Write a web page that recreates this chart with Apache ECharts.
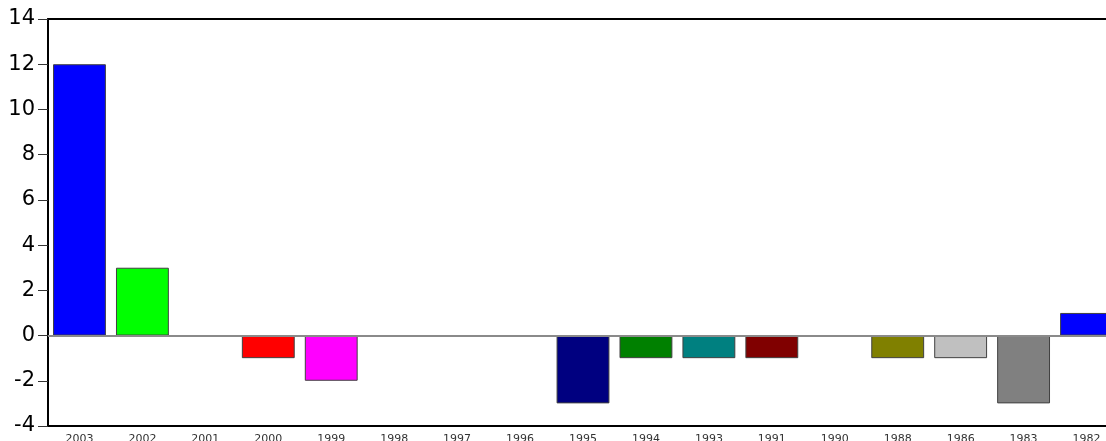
<!DOCTYPE html>
<html>
<head>
<meta charset="utf-8">
<script src="https://cdn.jsdelivr.net/npm/echarts@6/dist/echarts.min.js"></script>
<style>html,body{margin:0;padding:0;background:#fff}#c{width:1106px;height:441px}</style>
</head>
<body>
<div id="c"></div>
<script>
const categories = ['2003','2002','2001','2000','1999','1998','1997','1996','1995','1994','1993','1991','1990','1988','1986','1983','1982'];
const values = [12, 3, 0, -1, -2, 0, 0, 0, -3, -1, -1, -1, 0, -1, -1, -3, 1];
const barColors = ['#0000FF','#00FF00','#FFFF00','#FF0000','#FF00FF','#00FFFF','#0000FF','#00FF00','#000080','#008000','#008080','#800000','#800080','#808000','#C0C0C0','#808080','#0000FF'];
const yTicks = { min: -4, max: 14, interval: 2 };

const chart = echarts.init(document.getElementById('c'), null, { renderer: 'canvas' });
const font = 'DejaVu Sans, Verdana, sans-serif';
chart.setOption({
  animation: false,
  grid: { left: 48, right: -12, top: 19, bottom: 15, outerBoundsMode: 'none', containLabel: false },
  xAxis: [
    {
      type: 'category', data: categories, position: 'bottom', boundaryGap: true,
      axisLine: { onZero: false, lineStyle: { color: '#000', width: 2 } },
      axisTick: { alignWithLabel: true, length: 5, lineStyle: { color: '#000' } },
      axisLabel: { interval: 0, fontFamily: font, fontSize: 11, color: '#333', margin: 8 },
      splitLine: { show: false }
    },
    {
      type: 'category', data: categories, position: 'bottom', boundaryGap: true,
      axisLine: { show: false, onZero: false },
      axisTick: { inside: true, alignWithLabel: true, length: 6, lineStyle: { color: '#000' } },
      axisLabel: { show: false }, splitLine: { show: false }
    },
    {
      type: 'category', data: categories, position: 'top', boundaryGap: true,
      axisLine: { onZero: false, lineStyle: { color: '#000', width: 2 } },
      axisTick: { show: false }, axisLabel: { show: false }, splitLine: { show: false }
    }
  ],
  yAxis: {
    type: 'value', min: yTicks.min, max: yTicks.max, interval: yTicks.interval,
    axisLine: { show: true, lineStyle: { color: '#000', width: 2 } },
    axisTick: { show: true, length: 10, lineStyle: { color: '#333' } },
    axisLabel: { fontFamily: font, fontSize: 21, color: '#000', margin: 13 },
    splitLine: { show: false }
  },
  series: [{
    type: 'bar', xAxisIndex: 0,
    data: values.map((v, i) => ({ value: v, itemStyle: { color: barColors[i], borderWidth: v === 0 ? 0 : 1, opacity: v === 0 ? 0 : 1 } })),
    barWidth: '84%',
    itemStyle: { borderColor: '#404040', borderWidth: 1 },
    markLine: {
      silent: true, symbol: 'none', label: { show: false },
      lineStyle: { color: '#8a8a8a', width: 2, type: 'solid' },
      data: [{ yAxis: 0 }]
    }
  }]
});
</script>
</body>
</html>
